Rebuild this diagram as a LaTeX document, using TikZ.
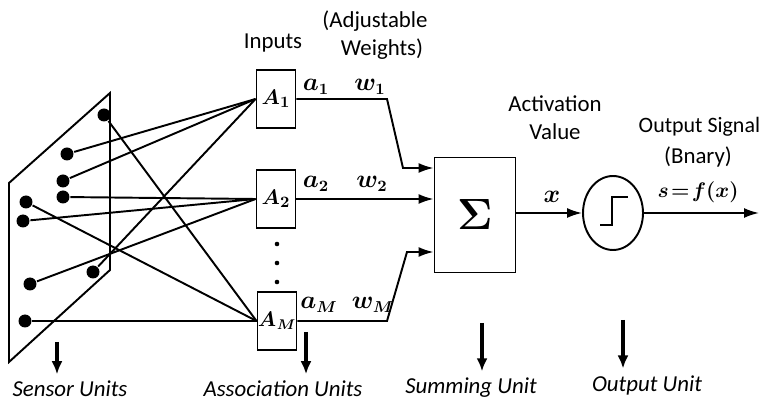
\documentclass[tikz,border=0pt]{standalone}
\usepackage{bm}
\usepackage{fontspec}
\setmainfont{Carlito}
\usetikzlibrary{arrows.meta,shapes.geometric}

\begin{document}
\begin{tikzpicture}[x=0.02cm, y=-0.02cm, line width=1.1pt,
  dot/.style={circle, fill, inner sep=0pt, minimum size=0.26cm},
  abox/.style={draw, minimum width=0.78cm, minimum height=1.16cm, inner sep=0pt,
    font=\fontsize{13}{15}\selectfont},
  lbl/.style={font=\fontsize{13}{15}\selectfont},
  sym/.style={font=\fontsize{13.5}{15}\selectfont, inner sep=1pt},
  unit/.style={font=\fontsize{13}{15}\selectfont\itshape},
  feed/.style={-{Latex[length=3mm,width=2mm]}},
  down/.style={line width=2pt, -{Latex[length=2.6mm,width=2.2mm]}}]
  \useasboundingbox (0,0) rectangle (760,401);
  % sensor plane with its units
  \draw (9,183) -- (110,93) -- (110,270) -- (9,362) -- cycle;
  \node[dot] (d1) at (104,115) {};
  \node[dot] (d2) at (67,154) {};
  \node[dot] (d3) at (63,181) {};
  \node[dot] (d4) at (63,197) {};
  \node[dot] (d5) at (26,202) {};
  \node[dot] (d6) at (23,221) {};
  \node[dot] (d7) at (93,272) {};
  \node[dot] (d8) at (30,284) {};
  \node[dot] (d9) at (25,321) {};
  % association units
  \node[abox] (A1) at (276,99) {$\bm{A_1}$};
  \node[abox] (A2) at (276,199) {$\bm{A_2}$};
  \node[abox, font=\fontsize{12}{14}\selectfont] (AM) at (277,321) {$\bm{A}_{\mkern1mu\bm{M}}$};
  \fill (277,244) circle (1.3pt);
  \fill (277,263) circle (1.3pt);
  \fill (277,282) circle (1.3pt);
  % random connections
  \draw (d2) -- (A1.west);
  \draw (d3) -- (A1.west);
  \draw (d7) -- (A1.west);
  \draw (d4) -- (A2.west);
  \draw (d6) -- (A2.west);
  \draw (d8) -- (A2.west);
  \draw (d1) -- (AM.west);
  \draw (d5) -- (AM.west);
  \draw (d9) -- (AM.west);
  % summing unit and weighted inputs
  \node[draw, minimum width=1.62cm, minimum height=2.3cm] (sum) at (475,215)
    {\fontsize{28}{28}\selectfont$\bm{\Sigma}$};
  \coordinate (k1) at (387,99);
  \coordinate (k1b) at (403,168);
  \coordinate (kM) at (387,321);
  \coordinate (kMb) at (407,252);
  \draw[feed] (A1.east) -- (k1) -- (k1b) -- (sum.west |- k1b);
  \draw[feed] (A2.east) -- (A2.east -| sum.west);
  \draw[feed] (AM.east) -- (kM) -- (kMb) -- (sum.west |- kMb);
  \node[sym] (a1) at (316,87) {$\bm{a_1}$};
  \node[sym] (w1) at (370,87) {$\bm{w_1}$};
  \node[sym] (a2) at (316,184) {$\bm{a_2}$};
  \node[sym] (w2) at (372,184) {$\bm{w_2}$};
  \node[sym] (aM) at (319,305) {$\bm{a_{M}}$};
  \node[sym] (wM) at (373,305) {$\bm{w_{M}}$};
  % output unit (threshold)
  \node[draw, ellipse, minimum width=1.2cm, minimum height=1.48cm, inner sep=0pt] (step) at (613,213) {};
  \draw ([shift={(-13,12)}]step.center) -- ++(12,0) -- ++(0,-28) -- ++(16,0);
  \coordinate (out) at (759,213);
  \draw[feed] (sum.east |- step.west) -- (step.west);
  \draw[feed] (step.east) -- (out);
  \node[sym] (x) at (552,197) {$\bm{x}$};
  \node[font=\fontsize{12}{14}\selectfont] (s) at (698,192) {$\bm{s\mkern2mu{=}\mkern2mu f(x)}$};
  % top labels
  \node[lbl] (inputs) at (273,43) {Inputs};
  \node[lbl] (adj) at (375,21) {(Adjustable};
  \node[lbl] (wts) at (382,49) {Weights)};
  \node[lbl] (act) at (555,104) {Activation};
  \node[lbl] (val) at (555,132) {Value};
  \node[lbl, font=\fontsize{12.5}{15}\selectfont, anchor=west, inner sep=1pt] (osig) at (636,127) {Output Signal};
  \node[lbl] (bin) at (698,157) {(Bnary)};
  % unit names
  \node[unit] (sens) at (70,389) {Sensor Units};
  \node[unit] (assoc) at (283,389) {Association Units};
  \node[unit] (summ) at (471,388) {Summing Unit};
  \node[unit] (outu) at (647,385) {Output Unit};
  \coordinate (p1) at (57,342);
  \coordinate (p2) at (306,332);
  \coordinate (p3) at (482,323);
  \coordinate (p4) at (623,320);
  \draw[down] (p1) -- (p1 |- sens.north);
  \draw[down] (p2) -- (p2 |- assoc.north);
  \draw[down] (p3) -- (p3 |- summ.north);
  \draw[down] (p4) -- (p4 |- outu.north);
\end{tikzpicture}
\end{document}
